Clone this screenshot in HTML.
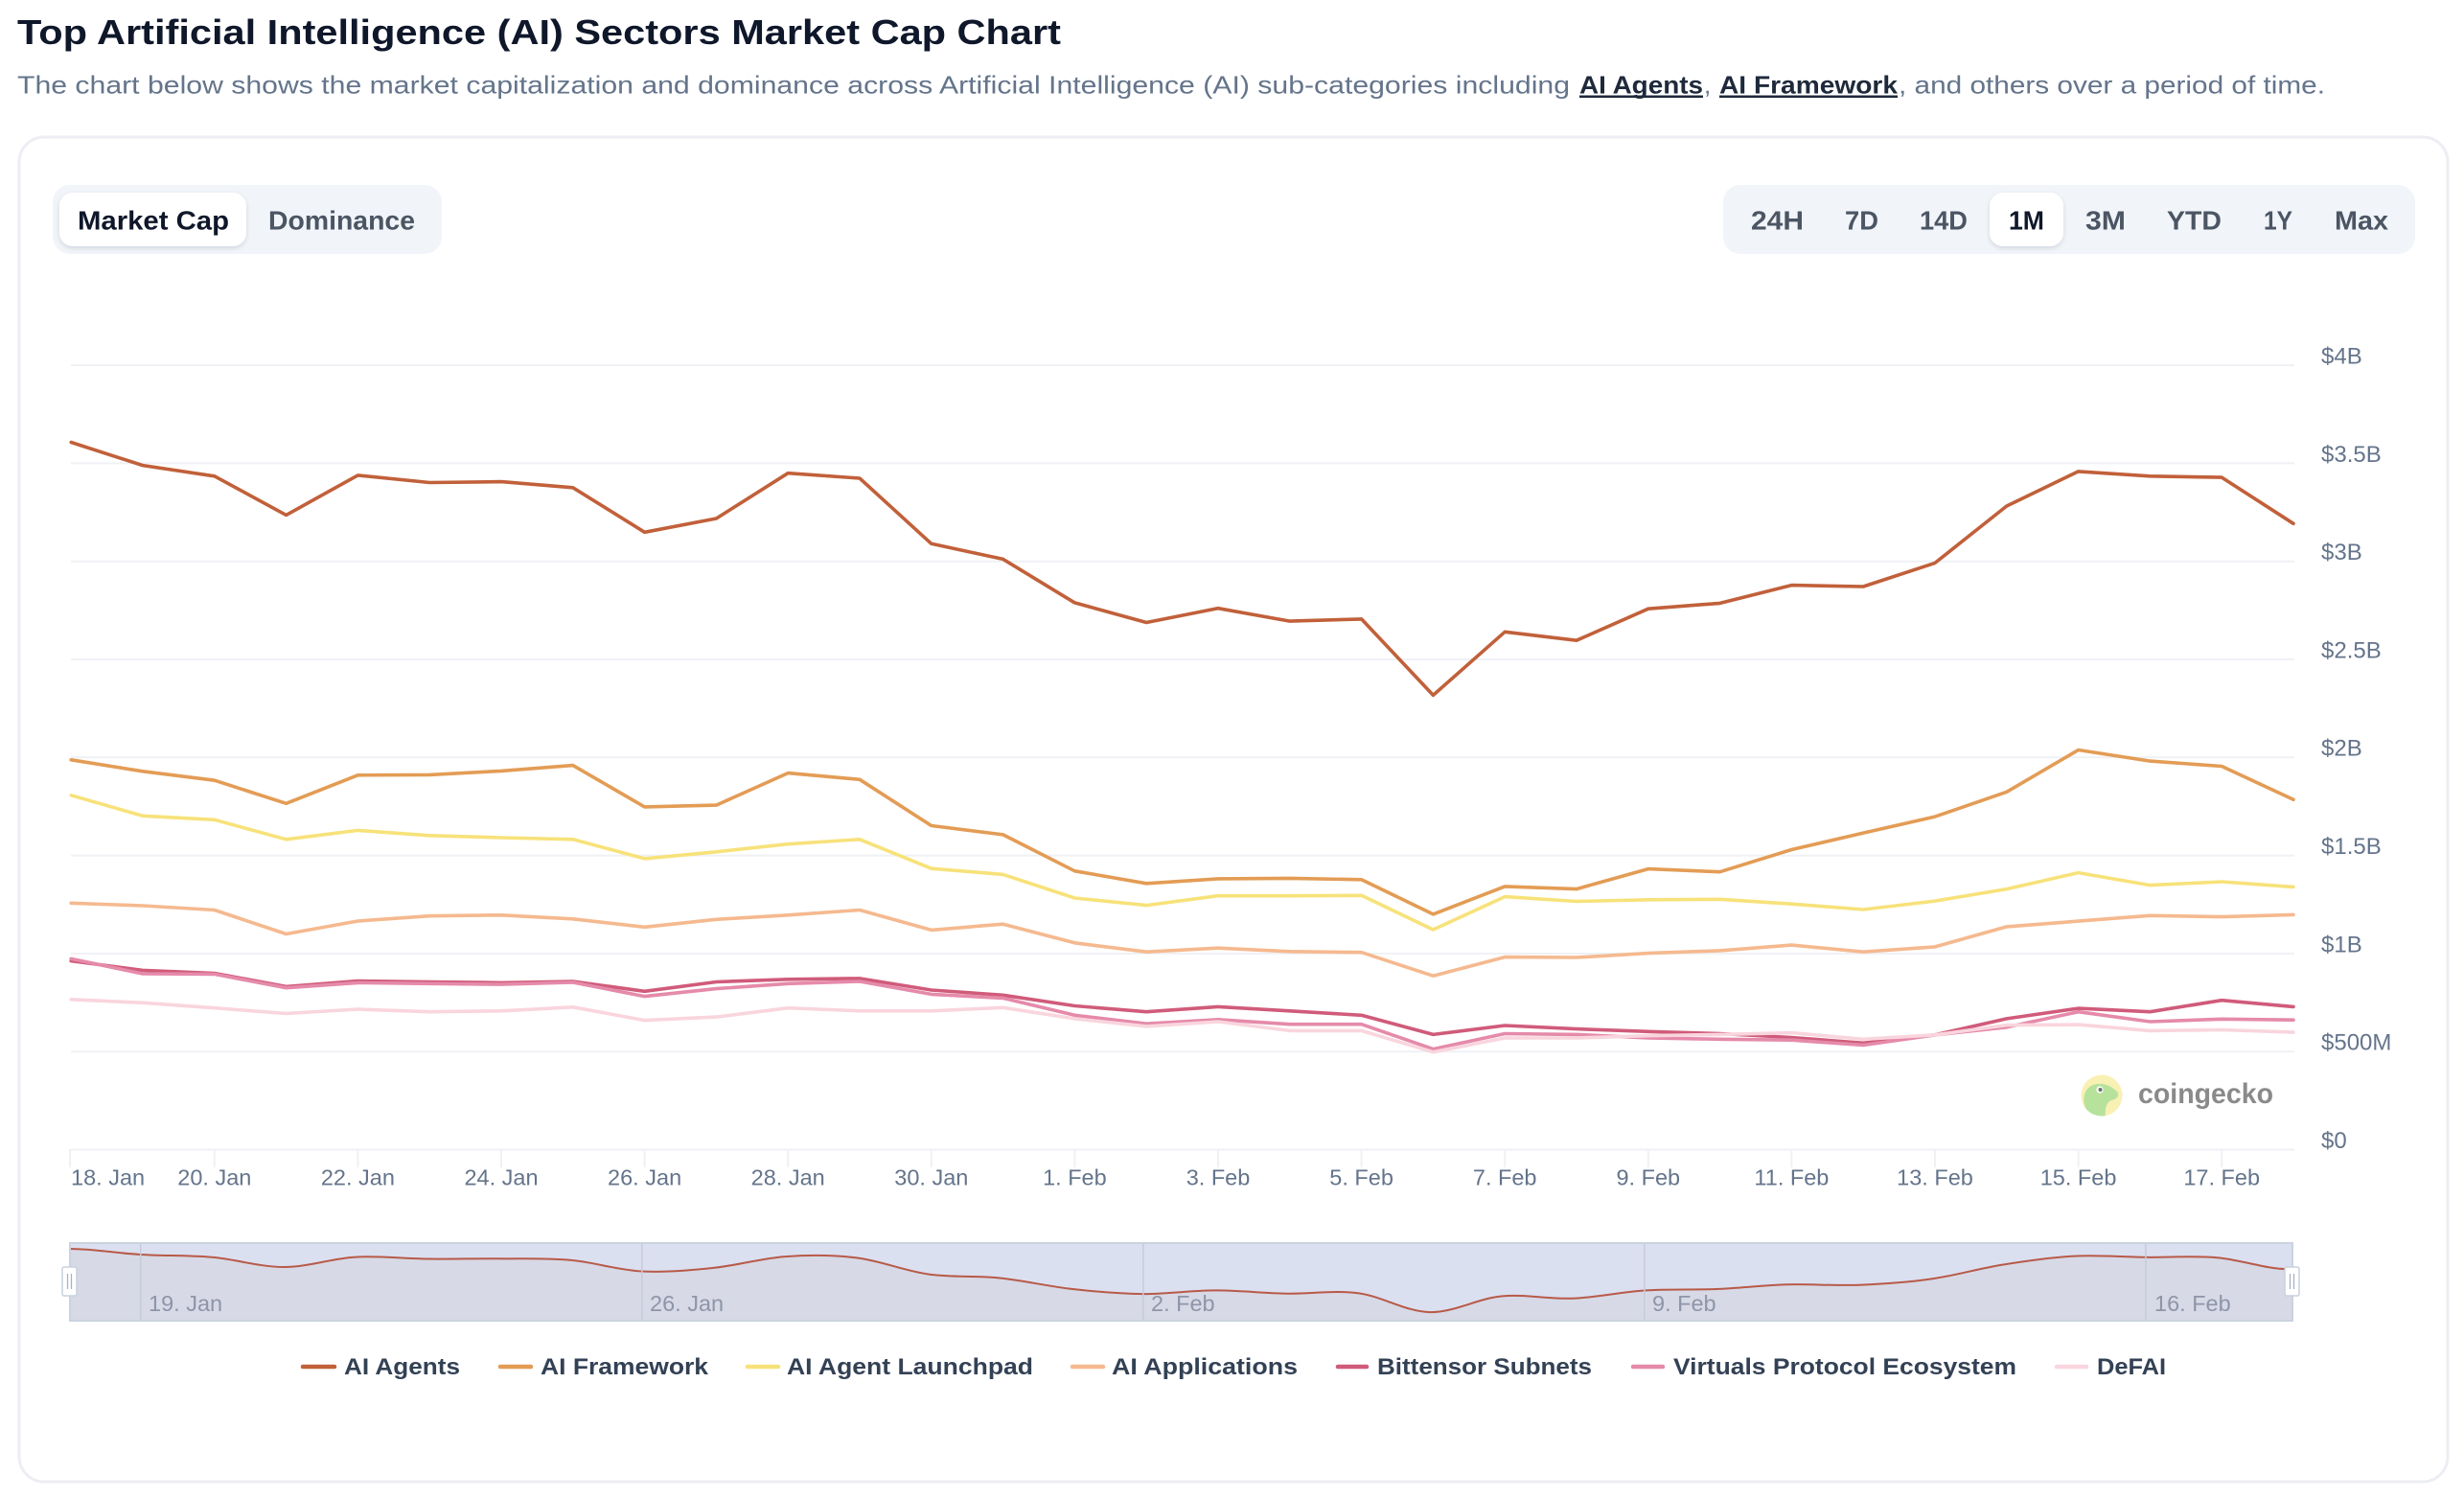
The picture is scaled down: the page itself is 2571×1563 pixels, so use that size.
<!DOCTYPE html>
<html>
<head>
<meta charset="utf-8">
<style>
html,body{margin:0;padding:0;background:#ffffff;}
body{width:2571px;height:1563px;overflow:hidden;}
svg{display:block;}
text{font-family:"Liberation Sans", sans-serif;}
</style>
</head>
<body>
<svg width="2571" height="1563" viewBox="0 0 2571 1563" xmlns="http://www.w3.org/2000/svg">
<defs>
  <filter id="sh" x="-20%" y="-30%" width="140%" height="170%">
    <feDropShadow dx="0" dy="2" stdDeviation="2.5" flood-color="#0f172a" flood-opacity="0.13"/>
  </filter>
  <clipPath id="cgclip"><circle cx="2193" cy="1143" r="21.5"/></clipPath>
</defs>
<rect width="2571" height="1563" fill="#ffffff"/>

<!-- Title -->
<text x="18" y="46" font-size="36" font-weight="bold" fill="#0f172a" textLength="1089" lengthAdjust="spacingAndGlyphs">Top Artificial Intelligence (AI) Sectors Market Cap Chart</text>

<!-- Subtitle -->
<text x="18" y="97.5" font-size="26" fill="#64748b" textLength="1620" lengthAdjust="spacingAndGlyphs">The chart below shows the market capitalization and dominance across Artificial Intelligence (AI) sub-categories including</text>
<text x="1648" y="97.5" font-size="26" font-weight="bold" fill="#1e293b" textLength="129" lengthAdjust="spacingAndGlyphs">AI Agents</text>
<rect x="1648" y="99.5" width="129" height="2.5" fill="#1e293b"/>
<text x="1778" y="97.5" font-size="26" fill="#64748b">,</text>
<text x="1794" y="97.5" font-size="26" font-weight="bold" fill="#1e293b" textLength="186" lengthAdjust="spacingAndGlyphs">AI Framework</text>
<rect x="1794" y="99.5" width="186" height="2.5" fill="#1e293b"/>
<text x="1981" y="97.5" font-size="26" fill="#64748b" textLength="445" lengthAdjust="spacingAndGlyphs">, and others over a period of time.</text>

<!-- Card -->
<rect x="20" y="143" width="2534" height="1403" rx="26" ry="26" fill="#ffffff" stroke="#eceef3" stroke-width="3"/>

<!-- Market Cap / Dominance toggle -->
<rect x="55" y="193" width="406" height="72" rx="18" fill="#f1f4f9"/>
<rect x="62" y="201" width="195" height="56" rx="14" fill="#ffffff" filter="url(#sh)"/>
<text x="81" y="239.5" font-size="28" font-weight="bold" fill="#0f172a" textLength="158" lengthAdjust="spacingAndGlyphs">Market Cap</text>
<text x="280" y="239.5" font-size="28" font-weight="bold" fill="#4b5563" textLength="153" lengthAdjust="spacingAndGlyphs">Dominance</text>

<!-- Time range -->
<rect x="1798" y="193" width="722" height="72" rx="18" fill="#f1f4f9"/>
<rect x="2076" y="201" width="77" height="56" rx="14" fill="#ffffff" filter="url(#sh)"/>
<g font-size="28" font-weight="bold" fill="#4b5563">
  <text x="1827" y="239.5" textLength="55" lengthAdjust="spacingAndGlyphs">24H</text>
  <text x="1925" y="239.5" textLength="35" lengthAdjust="spacingAndGlyphs">7D</text>
  <text x="2003" y="239.5" textLength="50" lengthAdjust="spacingAndGlyphs">14D</text>
  <text x="2096" y="239.5" textLength="37" lengthAdjust="spacingAndGlyphs" fill="#0f172a">1M</text>
  <text x="2176" y="239.5" textLength="42" lengthAdjust="spacingAndGlyphs">3M</text>
  <text x="2261" y="239.5" textLength="57" lengthAdjust="spacingAndGlyphs">YTD</text>
  <text x="2362" y="239.5" textLength="30" lengthAdjust="spacingAndGlyphs">1Y</text>
  <text x="2436" y="239.5" textLength="56" lengthAdjust="spacingAndGlyphs">Max</text>
</g>

<!-- Gridlines -->
<g stroke="#eff1f5" stroke-width="2">
  <line x1="74" y1="381.1" x2="2394" y2="381.1"/>
  <line x1="74" y1="483.4" x2="2394" y2="483.4"/>
  <line x1="74" y1="585.7" x2="2394" y2="585.7"/>
  <line x1="74" y1="688" x2="2394" y2="688"/>
  <line x1="74" y1="790.3" x2="2394" y2="790.3"/>
  <line x1="74" y1="892.6" x2="2394" y2="892.6"/>
  <line x1="74" y1="994.9" x2="2394" y2="994.9"/>
  <line x1="74" y1="1097.2" x2="2394" y2="1097.2"/>
  <line x1="74" y1="1199.5" x2="2394" y2="1199.5"/>
</g>
<!-- X ticks -->
<g stroke="#eff1f5" stroke-width="2">
  <line x1="73" y1="1199" x2="73" y2="1218"/>
  <line x1="223.8" y1="1199" x2="223.8" y2="1218"/>
  <line x1="373.4" y1="1199" x2="373.4" y2="1218"/>
  <line x1="523" y1="1199" x2="523" y2="1218"/>
  <line x1="672.6" y1="1199" x2="672.6" y2="1218"/>
  <line x1="822.2" y1="1199" x2="822.2" y2="1218"/>
  <line x1="971.8" y1="1199" x2="971.8" y2="1218"/>
  <line x1="1121.4" y1="1199" x2="1121.4" y2="1218"/>
  <line x1="1271" y1="1199" x2="1271" y2="1218"/>
  <line x1="1420.6" y1="1199" x2="1420.6" y2="1218"/>
  <line x1="1570.2" y1="1199" x2="1570.2" y2="1218"/>
  <line x1="1719.8" y1="1199" x2="1719.8" y2="1218"/>
  <line x1="1869.4" y1="1199" x2="1869.4" y2="1218"/>
  <line x1="2019" y1="1199" x2="2019" y2="1218"/>
  <line x1="2168.6" y1="1199" x2="2168.6" y2="1218"/>
  <line x1="2318.2" y1="1199" x2="2318.2" y2="1218"/>
</g>

<!-- Y labels -->
<g font-size="24" fill="#64748b">
  <text x="2422" y="379.5">$4B</text>
  <text x="2422" y="481.8">$3.5B</text>
  <text x="2422" y="584.1">$3B</text>
  <text x="2422" y="686.4">$2.5B</text>
  <text x="2422" y="788.7">$2B</text>
  <text x="2422" y="891">$1.5B</text>
  <text x="2422" y="993.3">$1B</text>
  <text x="2422" y="1095.6">$500M</text>
  <text x="2422" y="1197.9">$0</text>
</g>

<!-- X labels -->
<g font-size="23.5" fill="#64748b" text-anchor="middle">
  <text x="74" y="1236.7" text-anchor="start">18. Jan</text>
  <text x="223.8" y="1236.7">20. Jan</text>
  <text x="373.4" y="1236.7">22. Jan</text>
  <text x="523" y="1236.7">24. Jan</text>
  <text x="672.6" y="1236.7">26. Jan</text>
  <text x="822.2" y="1236.7">28. Jan</text>
  <text x="971.8" y="1236.7">30. Jan</text>
  <text x="1121.4" y="1236.7">1. Feb</text>
  <text x="1271" y="1236.7">3. Feb</text>
  <text x="1420.6" y="1236.7">5. Feb</text>
  <text x="1570.2" y="1236.7">7. Feb</text>
  <text x="1719.8" y="1236.7">9. Feb</text>
  <text x="1869.4" y="1236.7">11. Feb</text>
  <text x="2019" y="1236.7">13. Feb</text>
  <text x="2168.6" y="1236.7">15. Feb</text>
  <text x="2318.2" y="1236.7">17. Feb</text>
</g>

<!-- CoinGecko watermark -->
<circle cx="2193" cy="1143" r="21.5" fill="#f9f0b4"/>
<g clip-path="url(#cgclip)">
  <path d="M2177,1158 C2171,1146 2175,1133 2188,1131 C2197,1130 2204,1134 2209,1139 C2212,1143 2209,1147 2203,1148 C2198,1150 2196,1156 2197,1166 C2189,1168 2181,1164 2177,1158 Z" fill="#b6e29c"/>
  <path d="M2171,1150 C2172,1160 2178,1166 2188,1167 L2172,1168 Z" fill="#b6e29c"/>
</g>
<circle cx="2191" cy="1137" r="3.6" fill="#ffffff"/>
<circle cx="2191.5" cy="1137" r="2" fill="#6d6d6d"/>
<text x="2231" y="1151" font-size="30" font-weight="bold" fill="#8a8a8a" textLength="141" lengthAdjust="spacingAndGlyphs">coingecko</text>

<!-- Series -->
<g fill="none" stroke-width="3.6" stroke-linejoin="round" stroke-linecap="round">
  <polyline stroke="#c1603a" points="74.2,461.5 149,485.6 223.8,496.8 298.6,537.4 373.4,495.9 448.2,503.5 523,502.6 597.8,508.8 672.6,555.3 747.4,541 822.2,493.7 897,499 971.8,567.3 1046.6,583.4 1121.4,628.9 1196.2,649.5 1271,634.7 1345.8,648.1 1420.6,645.9 1495.4,725.4 1570.2,659.3 1645,668.2 1719.8,635.2 1794.6,629.4 1869.4,610.6 1944.2,612 2019,587.4 2093.8,528 2168.6,491.9 2243.4,496.8 2318.2,498.1 2393,546.3"/>
  <polyline stroke="#e39c55" points="74.2,792.8 149,804.8 223.8,814.2 298.6,838.3 373.4,808.8 448.2,808.4 523,804.4 597.8,798.6 672.6,841.9 747.4,840.1 822.2,806.6 897,813.3 971.8,861.5 1046.6,870.9 1121.4,908.8 1196.2,921.8 1271,916.9 1345.8,916.4 1420.6,917.8 1495.4,953.9 1570.2,924.9 1645,927.6 1719.8,906.6 1794.6,909.7 1869.4,886.5 1944.2,869.1 2019,852.1 2093.8,826.3 2168.6,782.5 2243.4,794.1 2318.2,799.5 2393,834.3"/>
  <polyline stroke="#f7e27a" points="74.2,829.8 149,851.3 223.8,855.3 298.6,875.8 373.4,866.4 448.2,871.8 523,874 597.8,875.8 672.6,895.9 747.4,888.8 822.2,880.7 897,875.8 971.8,906.2 1046.6,912.4 1121.4,937 1196.2,944.6 1271,934.7 1345.8,934.7 1420.6,934.3 1495.4,970 1570.2,935.6 1645,940.5 1719.8,938.8 1794.6,938.3 1869.4,943.2 1944.2,949 2019,940.1 2093.8,927.6 2168.6,910.6 2243.4,923.6 2318.2,920 2393,925.4"/>
  <polyline stroke="#f5b98f" points="74.2,942.3 149,945 223.8,949.5 298.6,974.5 373.4,961 448.2,955.7 523,954.8 597.8,958.8 672.6,967.3 747.4,959.3 822.2,954.8 897,949.5 971.8,970.4 1046.6,964.2 1121.4,983.8 1196.2,993.2 1271,989.2 1345.8,992.8 1420.6,993.7 1495.4,1018.2 1570.2,998.6 1645,999 1719.8,994.6 1794.6,991.9 1869.4,986.1 1944.2,993.2 2019,987.9 2093.8,966.9 2168.6,961.1 2243.4,955.3 2318.2,956.6 2393,954.4"/>
  <polyline stroke="#d05b7a" points="74.2,1002.6 149,1012.4 223.8,1015.5 298.6,1029.4 373.4,1023.6 448.2,1024.5 523,1025.4 597.8,1024 672.6,1034.3 747.4,1024.5 822.2,1021.8 897,1020.9 971.8,1033 1046.6,1038.3 1121.4,1049.5 1196.2,1055.7 1271,1050.4 1345.8,1054.8 1420.6,1059.3 1495.4,1079.4 1570.2,1070 1645,1073.6 1719.8,1076.3 1794.6,1078.5 1869.4,1082.5 1944.2,1088.3 2019,1079.8 2093.8,1062.9 2168.6,1052.1 2243.4,1055.7 2318.2,1043.7 2393,1050.4"/>
  <polyline stroke="#e58aaa" points="74.2,1000.4 149,1016 223.8,1016.4 298.6,1030.7 373.4,1025.4 448.2,1026.3 523,1027.1 597.8,1025 672.6,1039.6 747.4,1031.6 822.2,1026.3 897,1024 971.8,1037.4 1046.6,1041.4 1121.4,1059.3 1196.2,1068.2 1271,1063.8 1345.8,1068.7 1420.6,1068.7 1495.4,1094.6 1570.2,1078.5 1645,1079.4 1719.8,1083 1794.6,1084.3 1869.4,1085.2 1944.2,1090.5 2019,1079.8 2093.8,1071.8 2168.6,1055.7 2243.4,1066 2318.2,1063.3 2393,1064.2"/>
  <polyline stroke="#f9d5de" points="74.2,1042.8 149,1046.3 223.8,1051.7 298.6,1057.5 373.4,1053 448.2,1055.7 523,1054.8 597.8,1050.8 672.6,1064.6 747.4,1061.1 822.2,1051.7 897,1054.8 971.8,1054.8 1046.6,1051.3 1121.4,1062.9 1196.2,1070.9 1271,1066 1345.8,1075.4 1420.6,1075.4 1495.4,1097.7 1570.2,1083 1645,1083 1719.8,1080.7 1794.6,1079.4 1869.4,1077.6 1944.2,1084.3 2019,1079.8 2093.8,1069.6 2168.6,1069.1 2243.4,1075.4 2318.2,1074.5 2393,1077.1"/>
</g>

<!-- Navigator -->
<rect x="73" y="1297" width="2319" height="81" fill="#dbe0f1"/>
<path d="M72,1303 C96.9,1303 121.8,1307.5 146.7,1309 S196.5,1309.6 221.4,1311.8 S271.3,1322.0 296.2,1322.0 S346.0,1313.0 370.9,1311.6 S420.7,1313.2 445.6,1313.5 S495.4,1313.1 520.3,1313.3 S570.1,1312.6 595.0,1314.8 S644.9,1325.2 669.8,1326.5 S719.6,1325.5 744.5,1322.9 S794.3,1312.9 819.2,1311.1 S869.0,1309.3 893.9,1312.4 S943.7,1326.0 968.6,1329.5 S1018.5,1330.9 1043.4,1333.5 S1093.2,1342.1 1118.1,1344.9 S1167.9,1349.9 1192.8,1350.1 S1242.6,1346.5 1267.5,1346.4 S1317.3,1349.2 1342.2,1349.7 S1392.1,1346.0 1417.0,1349.2 S1466.8,1368.5 1491.7,1369.1 S1541.5,1354.9 1566.4,1352.5 S1616.2,1355.7 1641.1,1354.7 S1690.9,1348.1 1715.8,1346.5 S1765.7,1346.0 1790.6,1345.0 S1840.4,1341.0 1865.3,1340.3 S1915.1,1341.7 1940.0,1340.7 S1989.8,1338.0 2014.7,1334.5 S2064.5,1323.6 2089.4,1319.6 S2139.3,1311.9 2164.2,1310.6 S2214.0,1311.5 2238.9,1311.8 S2288.7,1310.1 2313.6,1312.2 S2363.4,1324.2 2388.3,1324.2 L2392,1324.5 L2392,1378 L73,1378 Z" fill="#d7d9e6"/>
<path d="M72,1303 C96.9,1303 121.8,1307.5 146.7,1309 S196.5,1309.6 221.4,1311.8 S271.3,1322.0 296.2,1322.0 S346.0,1313.0 370.9,1311.6 S420.7,1313.2 445.6,1313.5 S495.4,1313.1 520.3,1313.3 S570.1,1312.6 595.0,1314.8 S644.9,1325.2 669.8,1326.5 S719.6,1325.5 744.5,1322.9 S794.3,1312.9 819.2,1311.1 S869.0,1309.3 893.9,1312.4 S943.7,1326.0 968.6,1329.5 S1018.5,1330.9 1043.4,1333.5 S1093.2,1342.1 1118.1,1344.9 S1167.9,1349.9 1192.8,1350.1 S1242.6,1346.5 1267.5,1346.4 S1317.3,1349.2 1342.2,1349.7 S1392.1,1346.0 1417.0,1349.2 S1466.8,1368.5 1491.7,1369.1 S1541.5,1354.9 1566.4,1352.5 S1616.2,1355.7 1641.1,1354.7 S1690.9,1348.1 1715.8,1346.5 S1765.7,1346.0 1790.6,1345.0 S1840.4,1341.0 1865.3,1340.3 S1915.1,1341.7 1940.0,1340.7 S1989.8,1338.0 2014.7,1334.5 S2064.5,1323.6 2089.4,1319.6 S2139.3,1311.9 2164.2,1310.6 S2214.0,1311.5 2238.9,1311.8 S2288.7,1310.1 2313.6,1312.2 S2363.4,1324.2 2388.3,1324.2" fill="none" stroke="#b85a48" stroke-width="2"/>
<g stroke="#c6cbd9" stroke-width="1.5">
  <line x1="146.7" y1="1298" x2="146.7" y2="1377"/>
  <line x1="669.8" y1="1298" x2="669.8" y2="1377"/>
  <line x1="1192.8" y1="1298" x2="1192.8" y2="1377"/>
  <line x1="1715.8" y1="1298" x2="1715.8" y2="1377"/>
  <line x1="2238.9" y1="1298" x2="2238.9" y2="1377"/>
</g>
<g font-size="23.5" fill="#8e95a8">
  <text x="155" y="1368">19. Jan</text>
  <text x="678" y="1368">26. Jan</text>
  <text x="1201" y="1368">2. Feb</text>
  <text x="1724" y="1368">9. Feb</text>
  <text x="2248" y="1368">16. Feb</text>
</g>
<rect x="73" y="1297" width="2319" height="81" fill="none" stroke="#cbd2df" stroke-width="2"/>
<!-- handles -->
<rect x="65" y="1322" width="15" height="30" rx="2" fill="#ffffff" stroke="#c9d1de" stroke-width="1.5"/>
<line x1="70.5" y1="1329" x2="70.5" y2="1345" stroke="#a9b2c3" stroke-width="1.3"/>
<line x1="74.5" y1="1329" x2="74.5" y2="1345" stroke="#a9b2c3" stroke-width="1.3"/>
<rect x="2384" y="1322" width="15" height="30" rx="2" fill="#ffffff" stroke="#c9d1de" stroke-width="1.5"/>
<line x1="2389.5" y1="1329" x2="2389.5" y2="1345" stroke="#a9b2c3" stroke-width="1.3"/>
<line x1="2393.5" y1="1329" x2="2393.5" y2="1345" stroke="#a9b2c3" stroke-width="1.3"/>

<!-- Legend -->
<g stroke-width="4.5" stroke-linecap="round">
  <line x1="316" y1="1426" x2="349" y2="1426" stroke="#c1603a"/>
  <line x1="522" y1="1426" x2="554" y2="1426" stroke="#e39c55"/>
  <line x1="780" y1="1426" x2="812" y2="1426" stroke="#f7e27a"/>
  <line x1="1119" y1="1426" x2="1151" y2="1426" stroke="#f5b98f"/>
  <line x1="1396" y1="1426" x2="1426" y2="1426" stroke="#d05b7a"/>
  <line x1="1704" y1="1426" x2="1735" y2="1426" stroke="#e58aaa"/>
  <line x1="2146" y1="1426" x2="2177" y2="1426" stroke="#f9d5de"/>
</g>
<g font-size="24" font-weight="bold" fill="#334155">
  <text x="359" y="1434" textLength="121" lengthAdjust="spacingAndGlyphs">AI Agents</text>
  <text x="564" y="1434" textLength="175" lengthAdjust="spacingAndGlyphs">AI Framework</text>
  <text x="821" y="1434" textLength="257" lengthAdjust="spacingAndGlyphs">AI Agent Launchpad</text>
  <text x="1160" y="1434" textLength="194" lengthAdjust="spacingAndGlyphs">AI Applications</text>
  <text x="1437" y="1434" textLength="224" lengthAdjust="spacingAndGlyphs">Bittensor Subnets</text>
  <text x="1746" y="1434" textLength="358" lengthAdjust="spacingAndGlyphs">Virtuals Protocol Ecosystem</text>
  <text x="2188" y="1434" textLength="72" lengthAdjust="spacingAndGlyphs">DeFAI</text>
</g>
</svg>
</body>
</html>
